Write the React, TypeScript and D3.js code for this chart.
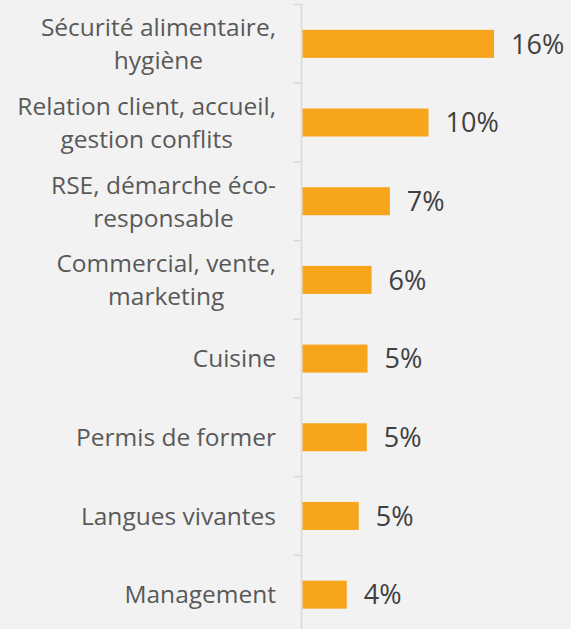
import React from "react";
import * as d3 from "d3";

const categories = [
  "Sécurité alimentaire,\nhygiène",
  "Relation client, accueil,\ngestion conflits",
  "RSE, démarche éco-\nresponsable",
  "Commercial, vente,\nmarketing",
  "Cuisine",
  "Permis de former",
  "Langues vivantes",
  "Management",
];
const values = [15.7, 10.33, 7.16, 5.66, 5.33, 5.27, 4.61, 3.63];

const W = 571;
const H = 629;
const FONT = "'Open Sans', sans-serif";
const LABEL_SIZE = 24.5;

function measure(text: string, size: number): number {
  const c = document.createElement("canvas");
  const ctx = c.getContext("2d");
  if (!ctx) return text.length * size * 0.5;
  ctx.font = `${size}px 'Open Sans', sans-serif`;
  return ctx.measureText(text).width;
}

export default function App() {
  const x = d3.scaleLinear().domain([0, 20]).range([302.5, 546.5]);
  const y = d3
    .scaleBand<string>()
    .domain(categories)
    .range([4.5, 634])
    .paddingInner(0.644)
    .paddingOuter(0.322);
  const step = y.step();
  const bw = y.bandwidth();
  const lineH = 33;
  const right = 276;
  const boundaries = d3.range(categories.length + 1).map((i) => 4.5 + i * step);

  return (
    <svg
      width={W}
      height={H}
      style={{ position: "absolute", left: 0, top: 0, background: "#F2F2F2" }}
    >
      <rect x={0} y={0} width={W} height={H} fill="#F2F2F2" />
      {boundaries.map((b, i) => (
        <line key={"t" + i} x1={293} x2={302} y1={b} y2={b} stroke="#D9D9D9" strokeWidth={1.5} />
      ))}
      <line x1={301.5} x2={301.5} y1={4.5} y2={634} stroke="#D9D9D9" strokeWidth={1.5} />
      {categories.map((c, i) => {
        const cy = (y(c) as number) + bw / 2;
        const lines = c.split("\n");
        const first = cy - ((lines.length - 1) * lineH) / 2;
        const maxW = d3.max(lines, (l) => measure(l, LABEL_SIZE)) as number;
        const center = right - maxW / 2;
        return (
          <g key={c}>
            <rect
              x={x(0)}
              y={y(c)}
              width={x(values[i]) - x(0)}
              height={bw}
              fill="#F7A51B"
            />
            <text
              textAnchor="middle"
              fontFamily={FONT}
              fontSize={LABEL_SIZE}
              fill="#595959"
            >
              {lines.map((l, j) => (
                <tspan key={j} x={center} y={first + j * lineH} dy="0.36em">
                  {l}
                </tspan>
              ))}
            </text>
            <text
              x={x(values[i]) + 17}
              y={cy}
              dy="0.36em"
              fontFamily={FONT}
              fontSize={27}
              fill="#404040"
            >
              {Math.round(values[i]) + "%"}
            </text>
          </g>
        );
      })}
    </svg>
  );
}
